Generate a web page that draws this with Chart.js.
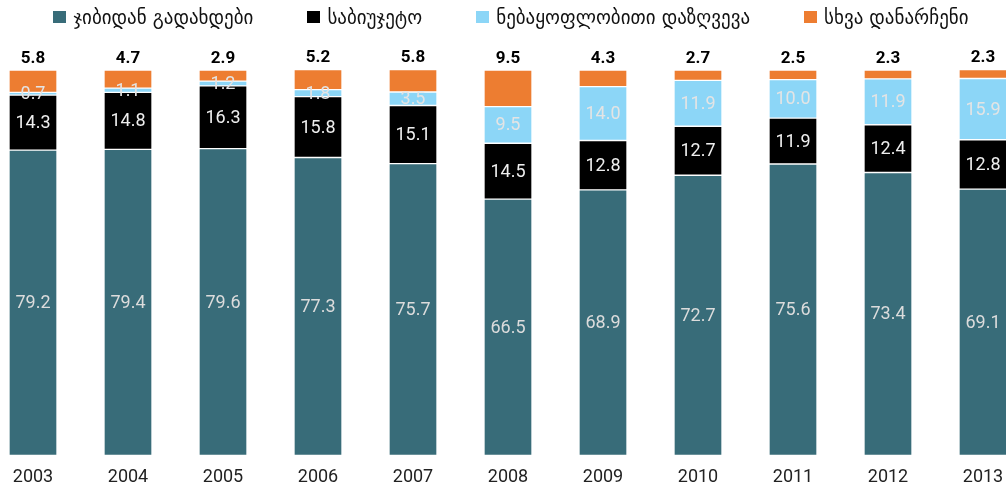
<!DOCTYPE html>
<html>
<head>
<meta charset="utf-8">
<script src="https://cdn.jsdelivr.net/npm/chart.js@4/dist/chart.umd.min.js"></script>
<style>
    html, body { margin: 0; padding: 0; background: #ffffff; }
    #wrap { position: relative; width: 1006px; height: 491px; }
    #legend {
        position: absolute; top: 6px; left: 16px; width: 990px;
        display: flex; justify-content: center; gap: 54px;
        font-family: 'DejaVu Sans', sans-serif; font-size: 19px; color: #111;
    }
    .item { display: flex; align-items: center; }
    .box { width: 13px; height: 12px; margin-right: 7px; }
</style>
</head>
<body>
<div id="wrap">
    <div id="legend"></div>
    <canvas id="chart" width="1006" height="491"></canvas>
</div>
<script>
const years = [2003, 2004, 2005, 2006, 2007, 2008, 2009, 2010, 2011, 2012, 2013];
const seriesNames = ['ჯიბიდან გადახდები', 'საბიუჯეტო', 'ნებაყოფლობითი დაზღვევა', 'სხვა დანარჩენი'];
const outOfPocket = [79.2, 79.4, 79.6, 77.3, 75.7, 66.5, 68.9, 72.7, 75.6, 73.4, 69.1];
const budget = [14.3, 14.8, 16.3, 15.8, 15.1, 14.5, 12.8, 12.7, 11.9, 12.4, 12.8];
const voluntary = [0.7, 1.1, 1.2, 1.8, 3.5, 9.5, 14.0, 11.9, 10.0, 11.9, 15.9];
const other = [5.8, 4.7, 2.9, 5.2, 5.8, 9.5, 4.3, 2.7, 2.5, 2.3, 2.3];
const colors = ['#386c79', '#000000', '#8cd6f7', '#ed7d31'];
const labelColors = ['#dcdcdc', '#eeeeee', '#e4e4e4', null];

const narrow = "Roboto, sans-serif";

// legend (html)
const legend = document.getElementById('legend');
seriesNames.forEach((name, i) => {
    const item = document.createElement('div');
    item.className = 'item';
    item.innerHTML = `<span class="box" style="background:${colors[i]}"></span><span>${name}</span>`;
    legend.appendChild(item);
});

// value labels drawn on the segments, last series above the bar
const valueLabels = {
    id: 'valueLabels',
    afterDatasetsDraw(chart) {
        const ctx = chart.ctx;
        ctx.save();
        ctx.textAlign = 'center';
        chart.data.datasets.forEach((ds, di) => {
            const meta = chart.getDatasetMeta(di);
            meta.data.forEach((bar, i) => {
                const v = ds.data[i].toFixed(1);
                if (di === chart.data.datasets.length - 1) {
                    ctx.font = 'bold 17px ' + narrow;
                    ctx.fillStyle = '#000';
                    ctx.textBaseline = 'bottom';
                    ctx.fillText(v, bar.x, bar.y - 3);
                } else {
                    ctx.font = '18px ' + narrow;
                    ctx.fillStyle = labelColors[di];
                    ctx.textBaseline = 'middle';
                    ctx.fillText(v, bar.x, (bar.y + bar.base) / 2 + 1);
                }
            });
        });
        ctx.restore();
    }
};

const step = 95;
const xMin = 2003 - 33 / step;

new Chart(document.getElementById('chart'), {
    type: 'bar',
    data: {
        labels: years,
        datasets: [outOfPocket, budget, voluntary, other].map((d, i) => ({
            label: seriesNames[i],
            data: d,
            backgroundColor: colors[i],
            borderColor: 'rgba(255,255,255,0.5)',
            borderWidth: 1,
            borderSkipped: false,
            barThickness: 48
        }))
    },
    options: {
        responsive: false,
        animation: false,
        layout: { padding: { top: 70, bottom: 0, left: 0, right: 0 } },
        plugins: {
            legend: { display: false },
            tooltip: { enabled: false }
        },
        scales: {
            x: {
                type: 'linear',
                stacked: true,
                offset: false,
                min: xMin,
                max: xMin + 1006 / step,
                grid: { display: false },
                border: { display: false },
                afterFit(scale) {
                    scale.paddingLeft = 0;
                    scale.paddingRight = 0;
                },
                ticks: {
                    stepSize: 1,
                    includeBounds: false,
                    autoSkip: false,
                    maxRotation: 0,
                    padding: 3,
                    color: '#222',
                    font: { size: 18, family: narrow },
                    callback: v => String(v)
                }
            },
            y: {
                stacked: true,
                display: false,
                min: 0,
                max: 100
            }
        }
    },
    plugins: [valueLabels]
});
</script>
</body>
</html>
